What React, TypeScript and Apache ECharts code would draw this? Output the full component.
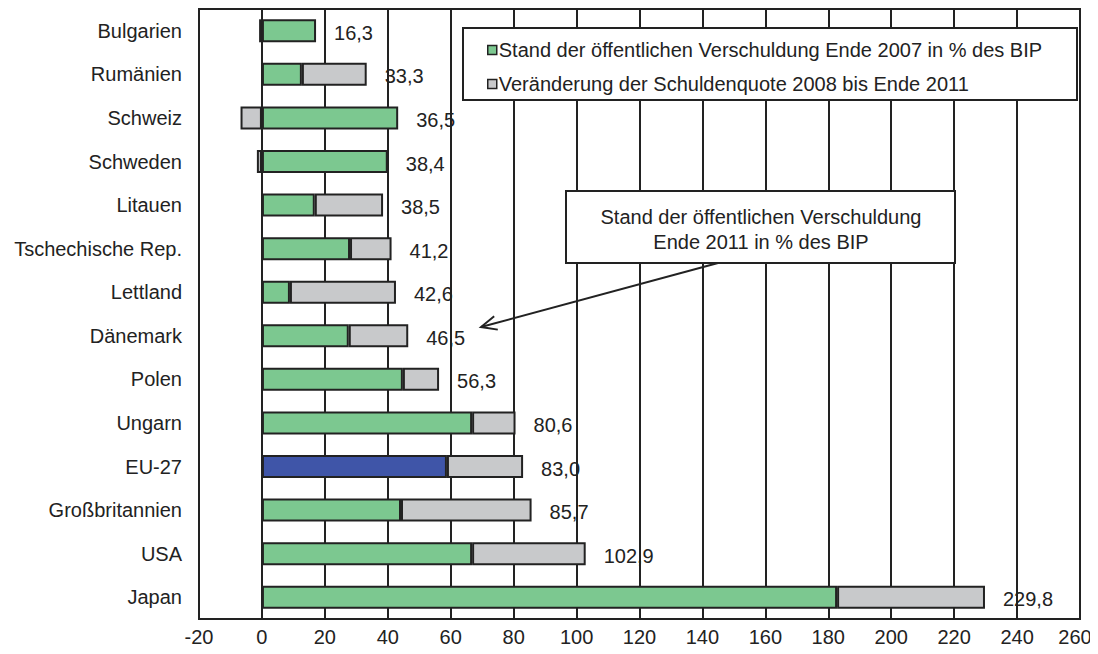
import React, { useEffect, useRef } from "react";
import * as echarts from "echarts";

// Public debt as % of GDP: level at end of 2007 and level at end of 2011
const categories = [
  "Bulgarien",
  "Rumänien",
  "Schweiz",
  "Schweden",
  "Litauen",
  "Tschechische Rep.",
  "Lettland",
  "Dänemark",
  "Polen",
  "Ungarn",
  "EU-27",
  "Großbritannien",
  "USA",
  "Japan",
];
const debt2007 = [17.2, 12.7, 43.3, 40.0, 16.8, 28.0, 8.9, 27.6, 44.8, 66.8, 58.8, 44.2, 66.8, 182.8];
const debt2011 = [16.3, 33.3, 36.5, 38.4, 38.5, 41.2, 42.6, 46.5, 56.3, 80.6, 83.0, 85.7, 102.9, 229.8];
const xTicks = { min: -20, max: 260, interval: 20 };

const legendNames = [
  "Stand der öffentlichen Verschuldung Ende 2007 in % des BIP",
  "Veränderung der Schuldenquote 2008 bis Ende 2011",
];
const highlightCategory = "EU-27";

const FONT = "'Liberation Sans', Arial, sans-serif";
const FS = 20;
const INK = "#222222";
const GREEN = "#7cc890";
const GREY = "#c8c9cb";
const BLUE = "#3f55a8";

const fmt = (v: number) => v.toFixed(1).replace(".", ",");

export default function App() {
  const ref = useRef<HTMLDivElement>(null);

  useEffect(() => {
    if (!ref.current) return;
    const chart = echarts.init(ref.current, null, { renderer: "svg" });

    const change = debt2011.map((t, i) => Math.round((t - debt2007[i]) * 10) / 10);

    const totalLabel = (i: number) => ({
      show: true,
      position: "right" as const,
      distance: 18,
      offset: [0, 2],
      formatter: fmt(debt2011[i]),
      color: INK,
      fontSize: FS,
      fontFamily: FONT,
    });

    const greenData = debt2007.map((v, i) => ({
      value: v,
      itemStyle: categories[i] === highlightCategory ? { color: BLUE } : undefined,
      label: change[i] < 0 ? totalLabel(i) : { show: false },
    }));
    const greyData = change.map((v, i) => ({
      value: v,
      label: v >= 0 ? totalLabel(i) : { show: false },
    }));

    // arrow from the annotation box towards the value labels
    const a0 = [718, 263];
    const a1 = [481, 327];
    const dx = a0[0] - a1[0];
    const dy = a0[1] - a1[1];
    const len = Math.hypot(dx, dy);
    const ux = dx / len;
    const uy = dy / len;
    const head = 17;
    const ang = (24 * Math.PI) / 180;
    const rot = (s: number) => [
      a1[0] + head * (ux * Math.cos(s * ang) - uy * Math.sin(s * ang)),
      a1[1] + head * (ux * Math.sin(s * ang) + uy * Math.cos(s * ang)),
    ];

    chart.setOption({
      animation: false,
      textStyle: { fontFamily: FONT, color: INK },
      grid: {
        left: 199,
        top: 9,
        width: 881,
        height: 610,
        show: true,
        borderColor: INK,
        borderWidth: 2,
        containLabel: false,
      },
      xAxis: {
        type: "value",
        min: xTicks.min,
        max: xTicks.max,
        interval: xTicks.interval,
        axisLine: { show: false },
        axisTick: { show: false },
        axisLabel: {
          color: INK,
          fontSize: FS,
          fontFamily: FONT,
          margin: 8,
          // keep the last tick label inside the page edge
          formatter: (v: number) => (v === xTicks.max ? `{edge|${v}}` : `${v}`),
          rich: { edge: { fontSize: FS, fontFamily: FONT, color: INK, padding: [0, 10, 0, 0] } },
        },
        splitLine: { show: true, lineStyle: { color: INK, width: 2 } },
      },
      yAxis: {
        type: "category",
        data: categories,
        inverse: true,
        axisLine: { show: false },
        axisTick: { show: false },
        axisLabel: { color: INK, fontSize: FS, fontFamily: FONT, margin: 17 },
        splitLine: { show: false },
      },
      legend: {
        orient: "vertical",
        left: 482,
        top: 35,
        z: 10,
        itemWidth: 9,
        itemHeight: 9,
        itemGap: 14,
        icon: "rect",
        data: legendNames,
        textStyle: { color: INK, fontSize: FS, fontFamily: FONT, padding: [0, 0, 0, -3] },
        itemStyle: { borderColor: INK, borderWidth: 1.5 },
      },
      graphic: [
        {
          type: "rect",
          z: 5,
          shape: { x: 463, y: 28, width: 614, height: 72 },
          style: { fill: "#ffffff", stroke: INK, lineWidth: 2 },
        },
        {
          type: "rect",
          z: 5,
          shape: { x: 566, y: 191, width: 389, height: 72 },
          style: { fill: "#ffffff", stroke: INK, lineWidth: 2 },
        },
        {
          type: "text",
          z: 6,
          x: 761,
          y: 229,
          style: {
            text: "Stand der öffentlichen Verschuldung\nEnde 2011 in % des BIP",
            align: "center",
            verticalAlign: "middle",
            fill: INK,
            font: `${FS}px ${FONT}`,
            lineHeight: 25,
          },
        },
        {
          type: "line",
          z: 6,
          shape: { x1: a0[0], y1: a0[1], x2: a1[0], y2: a1[1] },
          style: { stroke: INK, lineWidth: 2 },
        },
        {
          type: "polyline",
          z: 6,
          shape: { points: [rot(1), a1, rot(-1)] },
          style: { stroke: INK, lineWidth: 2, fill: "none" },
        },
      ],
      series: [
        {
          name: legendNames[0],
          type: "bar",
          stack: "debt",
          barWidth: 23,
          itemStyle: { color: GREEN, borderColor: INK, borderWidth: 2 },
          data: greenData,
          z: 3,
        },
        {
          name: legendNames[1],
          type: "bar",
          stack: "debt",
          barWidth: 23,
          itemStyle: { color: GREY, borderColor: INK, borderWidth: 2 },
          data: greyData,
          z: 3,
        },
      ],
    });

    return () => chart.dispose();
  }, []);

  return <div ref={ref} style={{ width: 1098, height: 654, marginLeft: -8, marginTop: -8 }} />;
}
